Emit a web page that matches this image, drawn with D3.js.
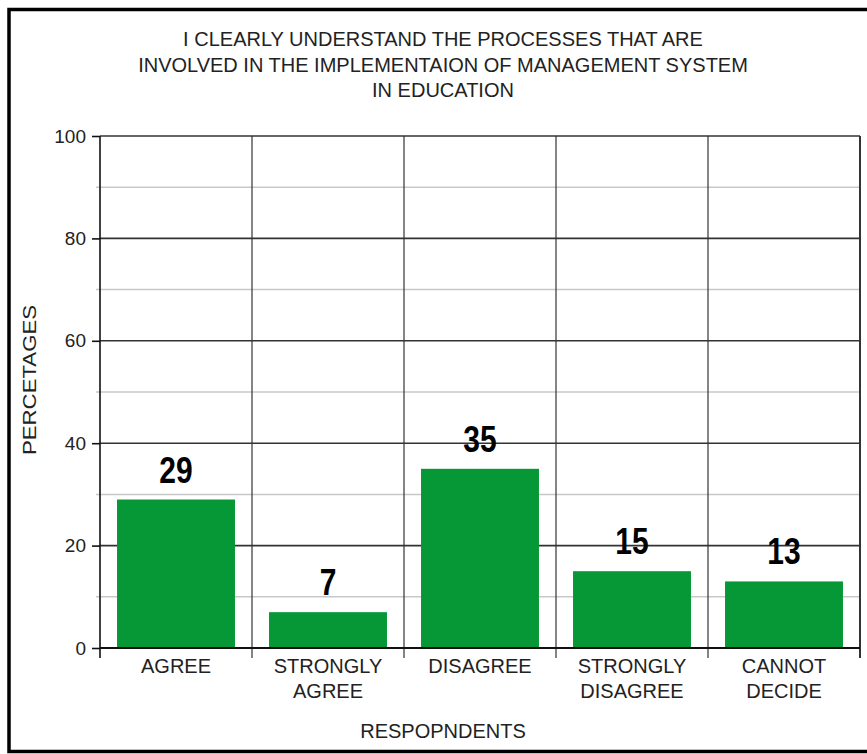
<!DOCTYPE html>
<html>
<head>
<meta charset="utf-8">
<script src="https://cdn.jsdelivr.net/npm/d3@7"></script>
<style>
  html, body { margin: 0; padding: 0; background: #fff; }
  svg { display: block; }
  text { font-family: "Liberation Sans", Arial, sans-serif; }
</style>
</head>
<body>
<svg id="chart" width="867" height="754"></svg>
<script>
// Survey responses (percent of respondents)
const categories = ["AGREE", "STRONGLY AGREE", "DISAGREE", "STRONGLY DISAGREE", "CANNOT DECIDE"];
const values = [29, 7, 35, 15, 13];
const majorTicks = [0, 20, 40, 60, 80, 100];
const minorTicks = [10, 30, 50, 70, 90];
const titleLines = [
  "I CLEARLY UNDERSTAND THE PROCESSES THAT ARE",
  "INVOLVED IN THE IMPLEMENTAION OF MANAGEMENT SYSTEM",
  "IN EDUCATION"
];
const xTitle = "RESPOPNDENTS";
const yTitle = "PERCETAGES";

const svg = d3.select("#chart");
const W = 867, H = 754;
const plot = { left: 100, right: 860, top: 136, bottom: 648 };
const textColor = "#222";

// Outer frame
svg.append("rect")
  .attr("x", 9).attr("y", 9.5)
  .attr("width", 900).attr("height", 742)
  .attr("fill", "#fff")
  .attr("stroke", "#000").attr("stroke-width", 3.5);

const x = d3.scaleBand()
  .domain(categories)
  .range([plot.left, plot.right])
  .paddingInner(0.224)
  .paddingOuter(0.112);

const y = d3.scaleLinear()
  .domain([0, 100])
  .range([plot.bottom, plot.top]);

const step = x.step();
const cellLeft = d => x(d) - step * x.paddingInner() / 2;

// Minor gridlines (extend a little past the axis as short ticks)
svg.append("g").selectAll("line")
  .data(minorTicks).join("line")
  .attr("x1", plot.left - 4).attr("x2", plot.right)
  .attr("y1", d => y(d)).attr("y2", d => y(d))
  .attr("stroke", "#c8c8c8").attr("stroke-width", 1.5);

// Vertical separators between categories
svg.append("g").selectAll("line")
  .data(categories.slice(1)).join("line")
  .attr("x1", d => cellLeft(d)).attr("x2", d => cellLeft(d))
  .attr("y1", plot.top).attr("y2", plot.bottom + 10)
  .attr("stroke", "#333").attr("stroke-width", 1.2);

// Right border of plot area
svg.append("line")
  .attr("x1", plot.right).attr("x2", plot.right)
  .attr("y1", plot.top).attr("y2", plot.bottom + 10)
  .attr("stroke", "#333").attr("stroke-width", 2);

// Major gridlines
svg.append("g").selectAll("line")
  .data(majorTicks.filter(d => d > 0)).join("line")
  .attr("x1", plot.left).attr("x2", plot.right)
  .attr("y1", d => y(d)).attr("y2", d => y(d))
  .attr("stroke", "#333").attr("stroke-width", 1.6);

// Bars
svg.append("g").selectAll("rect")
  .data(values).join("rect")
  .attr("x", (d, i) => x(categories[i]))
  .attr("y", d => y(d))
  .attr("width", x.bandwidth())
  .attr("height", d => y(0) - y(d))
  .attr("fill", "#069837");

// Y axis
const yAxis = svg.append("g")
  .attr("transform", `translate(${plot.left},0)`)
  .call(d3.axisLeft(y).tickValues(majorTicks).tickSize(8).tickPadding(6).tickSizeOuter(0));
yAxis.select(".domain").attr("stroke", "#111").attr("stroke-width", 1.6)
  .attr("d", `M0,${plot.top}V${plot.bottom + 10}`);
yAxis.selectAll(".tick line").attr("stroke", "#111").attr("stroke-width", 1.6);
yAxis.selectAll(".tick text")
  .attr("font-size", 19).attr("fill", textColor)
  .attr("font-family", "Liberation Sans, Arial, sans-serif");

// X axis line
svg.append("line")
  .attr("x1", plot.left).attr("x2", plot.right)
  .attr("y1", plot.bottom).attr("y2", plot.bottom)
  .attr("stroke", "#111").attr("stroke-width", 2);

// Category labels (wrapped on spaces)
const catLabels = svg.append("g").selectAll("text")
  .data(categories).join("text")
  .attr("x", d => x(d) + x.bandwidth() / 2)
  .attr("y", 673)
  .attr("text-anchor", "middle")
  .attr("font-size", 20)
  .attr("fill", textColor);
catLabels.each(function(d) {
  const words = d.split(" ");
  d3.select(this).selectAll("tspan")
    .data(words).join("tspan")
    .attr("x", x(d) + x.bandwidth() / 2)
    .attr("dy", (w, i) => i === 0 ? 0 : 25)
    .text(w => w);
});

// Value labels above bars
svg.append("g").selectAll("text")
  .data(values).join("text")
  .attr("transform", (d, i) => `translate(${x(categories[i]) + x.bandwidth() / 2},${y(d) - 17}) scale(1,1.2)`)
  .attr("text-anchor", "middle")
  .attr("font-size", 30)
  .attr("font-weight", "bold")
  .attr("fill", "#000")
  .text(d => d);

// Title
svg.append("g").selectAll("text")
  .data(titleLines).join("text")
  .attr("x", 443)
  .attr("y", (d, i) => 46 + i * 25.5)
  .attr("text-anchor", "middle")
  .attr("font-size", 20)
  .attr("fill", textColor)
  .text(d => d);

// Axis titles
svg.append("text")
  .attr("x", 443).attr("y", 738)
  .attr("text-anchor", "middle")
  .attr("font-size", 20)
  .attr("fill", textColor)
  .text(xTitle);

svg.append("text")
  .attr("transform", "translate(36,380) rotate(-90)")
  .attr("text-anchor", "middle")
  .attr("font-size", 18)
  .attr("textLength", 150)
  .attr("lengthAdjust", "spacingAndGlyphs")
  .attr("fill", textColor)
  .text(yTitle);
</script>
</body>
</html>
